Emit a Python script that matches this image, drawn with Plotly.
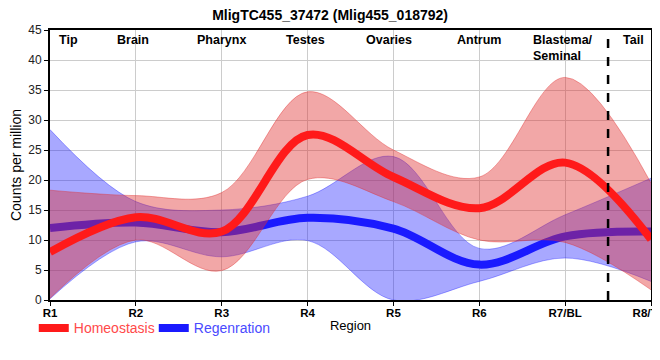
import plotly.graph_objects as go

regions = ["R1", "R2", "R3", "R4", "R5", "R6", "R7/BL", "R8/Tail"]
region_names = ["Tip", "Brain", "Pharynx", "Testes", "Ovaries", "Antrum", "Blastema/<br>Seminal", "Tail"]
region_label_pos = [0.22, 0.97, 2.0, 2.97, 3.95, 5.0, 5.97, 6.8]

homeo_mean = [8.0, 13.8, 11.4, 27.5, 20.5, 15.3, 22.9, 10.1]
homeo_upper = [18.3, 17.4, 17.9, 34.7, 25.0, 20.5, 37.1, 19.5]
homeo_lower = [0.3, 10.0, 4.9, 20.1, 16.4, 10.0, 9.6, 1.7]

regen_mean = [12.0, 12.9, 11.3, 13.7, 11.9, 5.9, 10.6, 11.4]
regen_upper = [28.4, 16.4, 15.0, 17.3, 23.9, 8.6, 14.2, 20.3]
regen_lower = [0.2, 9.7, 7.2, 9.9, 0.0, 3.1, 7.0, 3.1]

x = list(range(len(regions)))
SM = 1.0
FONT = "Liberation Sans, Arial"

fig = go.Figure()

def band(lower, upper, fill, edge):
    fig.add_trace(go.Scatter(x=x, y=lower, mode="lines", line=dict(color=edge, width=1, shape="spline", smoothing=SM),
                             showlegend=False, hoverinfo="skip"))
    fig.add_trace(go.Scatter(x=x, y=upper, mode="lines", line=dict(color=edge, width=1, shape="spline", smoothing=SM),
                             fill="tonexty", fillcolor=fill, showlegend=False, hoverinfo="skip"))

band(regen_lower, regen_upper, "rgba(20,20,255,0.37)", "rgba(20,20,255,0.35)")
fig.add_trace(go.Scatter(x=x, y=regen_mean, mode="lines", name='<span style="color:#4a4aff">Regenration</span>',
                         line=dict(color="#1a1aff", width=8, shape="spline", smoothing=SM)))
band(homeo_lower, homeo_upper, "rgba(225,45,45,0.42)", "rgba(225,45,45,0.4)")
fig.add_trace(go.Scatter(x=x, y=homeo_mean, mode="lines", name='<span style="color:#ff4a4a">Homeostasis</span>',
                         line=dict(color="#ff1a1a", width=8, shape="spline", smoothing=SM)))

for name, px in zip(region_names, region_label_pos):
    fig.add_annotation(x=px, y=1, xref="x", yref="paper", yanchor="top", yshift=-1, text=f"<b>{name}</b>",
                       showarrow=False, font=dict(family=FONT, size=12.5, color="black"), align="left")

fig.add_shape(type="line", x0=6.5, x1=6.5, y0=0, y1=1, xref="x", yref="paper",
              line=dict(color="black", width=2.5, dash="dash"))

fig.update_layout(
    width=660, height=352,
    margin=dict(l=42, r=17, t=22, b=60, autoexpand=False),
    paper_bgcolor="white", plot_bgcolor="white",
    title=dict(text="<b>MligTC455_37472 (Mlig455_018792)</b>", x=0.488, xanchor="center", xref="container",
               y=0.995, yanchor="top", font=dict(family=FONT, size=14, color="black")),
    legend=dict(orientation="h", x=-0.027, xanchor="left", y=-0.105, yanchor="middle", traceorder="reversed",
                font=dict(family=FONT, size=14), bgcolor="rgba(0,0,0,0)", itemwidth=30, tracegroupgap=0,
                entrywidth=75, entrywidthmode="pixels"),
    showlegend=True,
)
fig.update_xaxes(range=[0, 7], tickmode="array", tickvals=x, ticktext=[f"<b>{r}</b>" for r in regions],
                 tickfont=dict(family=FONT, size=11.5, color="black"), showgrid=True, gridcolor="#cccccc",
                 showline=True, linecolor="black", linewidth=2, mirror=True, ticks="outside", ticklen=4,
                 tickcolor="black", automargin=False, zeroline=False, ticklabeloverflow="allow",
                 ticklabelstandoff=-3,
                 title=dict(text="Region", font=dict(family=FONT, size=13, color="black"), standoff=3))
fig.update_yaxes(range=[0, 45], dtick=5, tickfont=dict(family=FONT, size=12, color="#222"),
                 showgrid=True, gridcolor="#cccccc", showline=True, linecolor="black", linewidth=2, mirror=True,
                 ticks="outside", ticklen=4, tickcolor="black", zeroline=False, automargin=False,
                 title=dict(text="Counts per million", font=dict(family=FONT, size=14, color="black"), standoff=6))

fig.write_html("out.html")
